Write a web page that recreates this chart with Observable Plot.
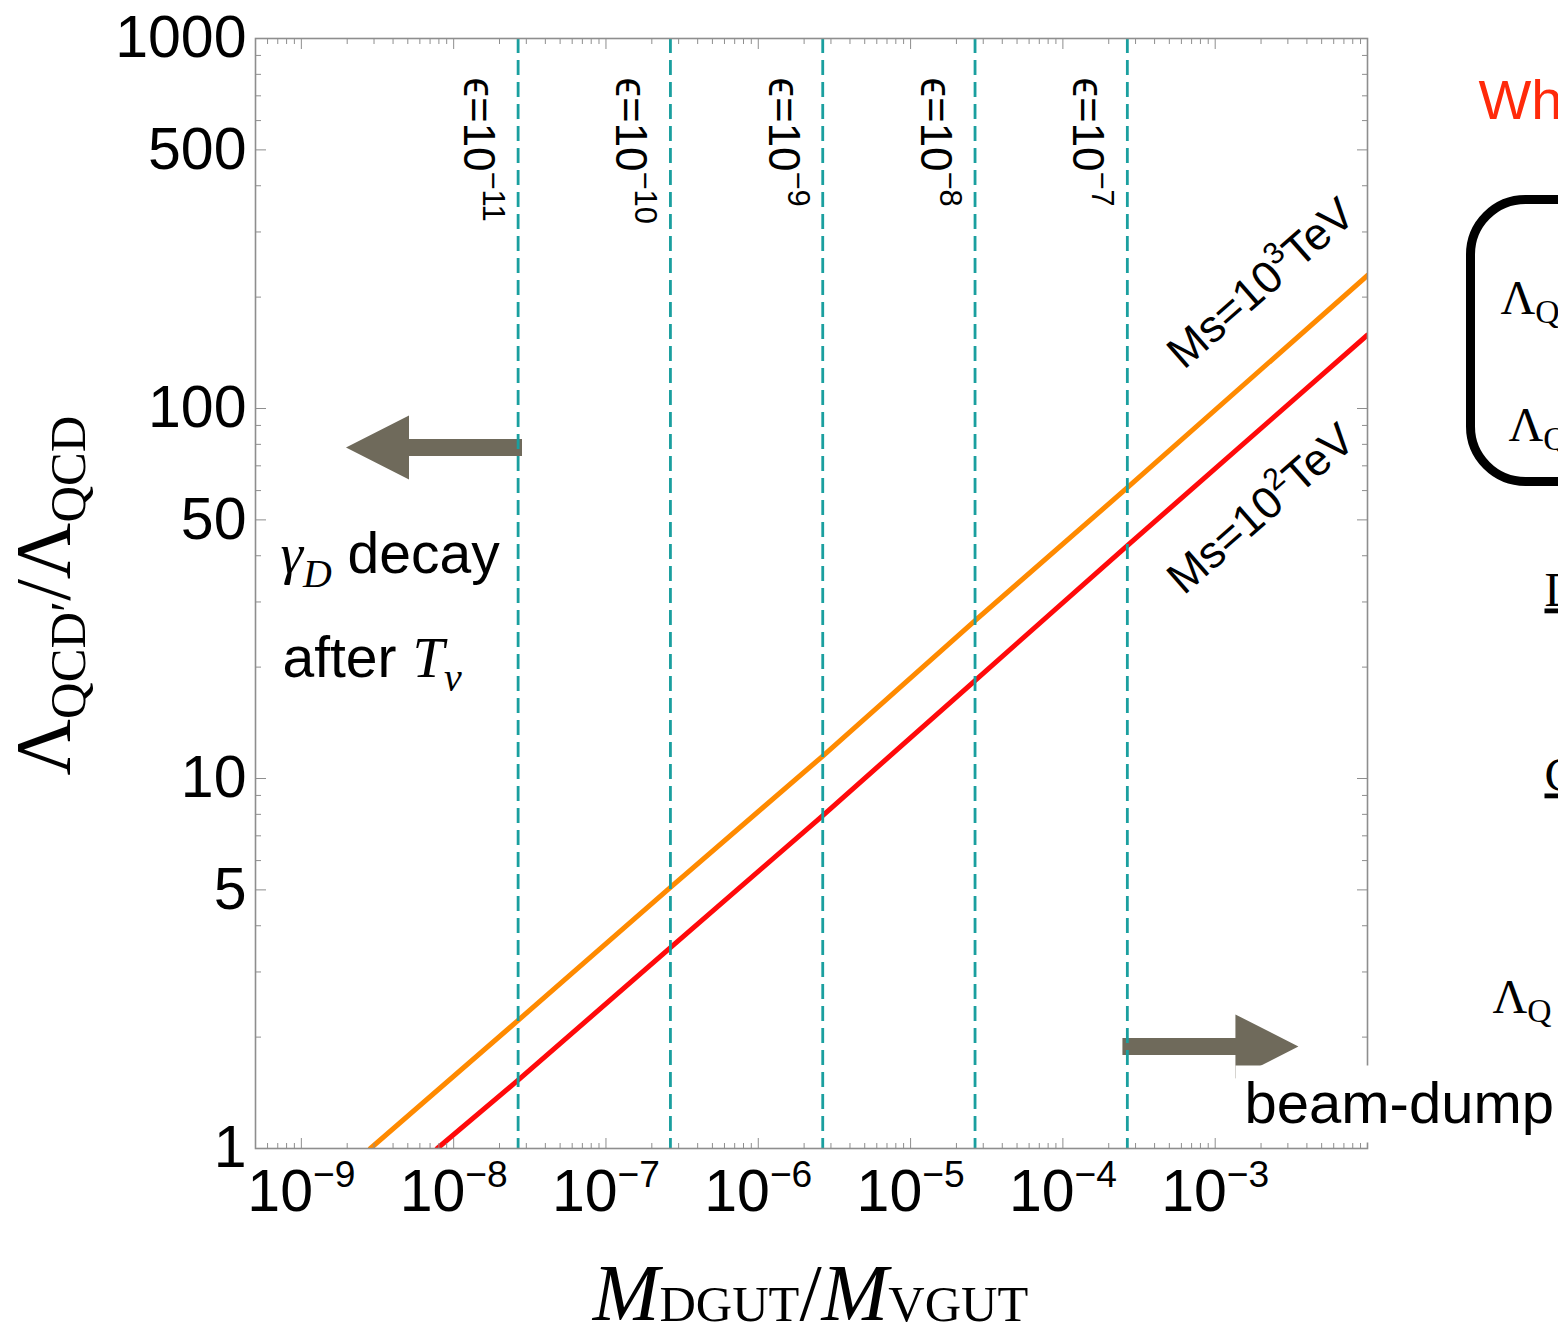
<!DOCTYPE html>
<html>
<head>
<meta charset="utf-8">
<script src="https://cdn.jsdelivr.net/npm/d3@7"></script>
<script src="https://cdn.jsdelivr.net/npm/@observablehq/plot@0.6"></script>
<style>
  html, body { margin: 0; padding: 0; background: #fff; overflow: hidden; }
  svg text { white-space: pre; }
</style>
</head>
<body>
<div id="chart"></div>
<script>
// Λ_QCD'/Λ_QCD as a function of M_DGUT/M_VGUT for two values of M_S
const orangeX = [2.84e-9, 2.65e-8, 2.65e-7, 2.65e-6, 2.65e-5, 2.65e-4, 1e-2];
const orangeY = [1, 2.22, 5.08, 11.5, 26.7, 61.1, 229];
const redX = [7.8e-9, 2.65e-8, 2.65e-7, 2.65e-6, 2.65e-5, 2.65e-4, 1e-2];
const redY = [1, 1.53, 3.49, 7.94, 18.4, 42.6, 158];
const seriesLabels = ["Ms=10^{3}TeV", "Ms=10^{2}TeV"];
const seriesColors = ["#ff8a00", "#ff0a0a"];

// kinetic-mixing contours ε = 10^n
const epsX = [2.65e-8, 2.65e-7, 2.65e-6, 2.65e-5, 2.65e-4];
const epsExponent = [-11, -10, -9, -8, -7];

// axis ticks
const xLabelExponents = [-9, -8, -7, -6, -5, -4, -3];
const xMajorExponents = [-9, -8, -7, -6, -5, -4, -3, -2];
const yLabelValues = [1, 5, 10, 50, 100, 500, 1000];

// excluded-region arrows: tail position and direction
const arrowX = [2.81e-8, 2.46e-4];
const arrowY = [78.5, 1.887];
const arrowAngle = [-90, 90];

const SANS = "'Liberation Sans', Arial, Helvetica, sans-serif";
const SERIF = "'Liberation Serif', 'Times New Roman', Times, serif";
const TICK = "#8e8e8e";
const TEAL = "#1a9f9f";
const ARROW = "#6f6a5b";

// tables built from the arrays above
const curves = [
  ...orangeX.map((x, i) => ({series: seriesLabels[0], x, y: orangeY[i]})),
  ...redX.map((x, i) => ({series: seriesLabels[1], x, y: redY[i]}))
];
const curveEnds = [
  {series: seriesLabels[0], x: orangeX.at(-1), y: orangeY.at(-1)},
  {series: seriesLabels[1], x: redX.at(-1), y: redY.at(-1)}
];
const epsRows = epsX.map((x, i) => ({x, label: `ϵ=10^{−${-epsExponent[i]}}`}));
const arrows = arrowX.map((x, i) => ({x, y: arrowY[i], angle: arrowAngle[i]}));

const xMajor = xMajorExponents.map(e => 10 ** e);
const xLabels = xLabelExponents.map(e => 10 ** e);
const xMinor = d3.range(-10, -2).flatMap(e => d3.range(2, 10).map(k => k * 10 ** e)).filter(v => v >= 5e-10 && v <= 1e-2);
const yMinor = d3.range(0, 3).flatMap(e => d3.range(2, 10).filter(k => k !== 5).map(k => k * 10 ** e));

// filled block arrow for the vector mark (drawn pointing "up", rotated by the mark)
const blockArrow = {
  draw(ctx, l) {
    const shaft = 8.5, head = 32, headLen = 63;
    ctx.moveTo(-shaft, 0);
    ctx.lineTo(-shaft, -(l - headLen));
    ctx.lineTo(-head, -(l - headLen));
    ctx.lineTo(0, -l);
    ctx.lineTo(head, -(l - headLen));
    ctx.lineTo(shaft, -(l - headLen));
    ctx.lineTo(shaft, 0);
    ctx.closePath();
  }
};

const tickAxes = [
  Plot.axisX(xMajor, {anchor: "bottom", tickSize: -10, fill: "none", stroke: TICK, label: null}),
  Plot.axisX(xMinor, {anchor: "bottom", tickSize: -5, fill: "none", stroke: TICK, label: null}),
  Plot.axisX(xMajor, {anchor: "top", tickSize: -10, fill: "none", stroke: TICK, label: null}),
  Plot.axisX(xMinor, {anchor: "top", tickSize: -5, fill: "none", stroke: TICK, label: null}),
  Plot.axisY(yLabelValues, {anchor: "left", tickSize: -11, fill: "none", stroke: TICK, label: null}),
  Plot.axisY(yMinor, {anchor: "left", tickSize: -6, fill: "none", stroke: TICK, label: null}),
  Plot.axisY(yLabelValues, {anchor: "right", tickSize: -11, fill: "none", stroke: TICK, label: null}),
  Plot.axisY(yMinor, {anchor: "right", tickSize: -6, fill: "none", stroke: TICK, label: null})
];

// a constant aria-label per text lets the markup pass below find each group
const tag = name => () => name;

const chart = Plot.plot({
  width: 1558,
  height: 1328,
  marginTop: 38,
  marginLeft: 255,
  marginRight: 191,
  marginBottom: 180,
  x: {type: "log", domain: [5e-10, 1e-2]},
  y: {type: "log", domain: [1, 1000]},
  color: {domain: seriesLabels, range: seriesColors},
  style: {fontFamily: SANS, background: "#fff", color: "#000", overflow: "visible"},
  marks: [
    Plot.line(curves, {x: "x", y: "y", z: "series", stroke: "series", strokeWidth: 5, clip: true}),
    Plot.vector(arrows, {x: "x", y: "y", rotate: "angle", length: 176, anchor: "start", shape: blockArrow, fill: ARROW, stroke: "none"}),
    Plot.ruleX(epsX, {stroke: TEAL, strokeWidth: 2.8, strokeDasharray: "15,7"}),
    Plot.frame({stroke: TICK, strokeWidth: 1.6}),
    ...tickAxes,
    Plot.axisX(xLabels, {anchor: "bottom", tickSize: 0, tickPadding: 21, fontSize: 59, label: null,
      tickFormat: v => `10^{−${Math.round(-Math.log10(v))}}`}),
    Plot.axisY(yLabelValues, {anchor: "left", tickSize: 0, tickPadding: 9, fontSize: 59, label: null,
      tickFormat: v => String(v)}),
    // ε labels along the dashed contours
    Plot.text(epsRows, {x: "x", text: "label", frameAnchor: "top", rotate: 90, textAnchor: "start", lineAnchor: "bottom",
      dx: -54, dy: 39, fontSize: 44, ariaLabel: tag("eps")}),
    // curve labels
    Plot.text(curveEnds.slice(0, 1), {x: "x", y: "y", text: "series", rotate: -41.2, textAnchor: "end", lineAnchor: "bottom",
      dx: -10, dy: -57, fontSize: 45, ariaLabel: tag("ms")}),
    Plot.text(curveEnds.slice(1), {x: "x", y: "y", text: "series", rotate: -41.2, textAnchor: "end", lineAnchor: "bottom",
      dx: -10, dy: 109, fontSize: 45, ariaLabel: tag("ms")}),
    // region annotations
    Plot.text(["*γ*_{*D*} decay"], {frameAnchor: "top-left", textAnchor: "start", lineAnchor: "bottom",
      dx: 25, dy: 534, fontSize: 57, ariaLabel: tag("note")}),
    Plot.text(["after *T*_{*ν*}"], {frameAnchor: "top-left", textAnchor: "start", lineAnchor: "bottom",
      dx: 27, dy: 638, fontSize: 57, ariaLabel: tag("note")}),
    Plot.frame({fill: "#fff", stroke: "none", insetLeft: 980, insetRight: -191, insetTop: 1027, insetBottom: 6}),
    Plot.text(["beam-dump"], {frameAnchor: "bottom-right", textAnchor: "start", lineAnchor: "bottom",
      dx: -123, dy: -26, fontSize: 58}),
    // axis titles
    Plot.text(["Λ_{QCD′}/Λ_{QCD}"], {frameAnchor: "left", rotate: -90, textAnchor: "middle", lineAnchor: "bottom",
      dx: -187, dy: 2, fontSize: 78, fontFamily: SERIF, ariaLabel: tag("ytitle")}),
    Plot.text(["*M*_{DGUT}/*M*_{VGUT}"], {frameAnchor: "bottom", textAnchor: "middle", lineAnchor: "bottom",
      dx: -1, dy: 171, fontSize: 80, fontFamily: SERIF, ariaLabel: tag("xtitle")}),
    // neighbouring slide content at the right edge
    Plot.text(["Wh"], {frameAnchor: "top-right", textAnchor: "start", lineAnchor: "bottom",
      dx: 111, dy: 80, fontSize: 56, fill: "#ff2a0a"}),
    Plot.frame({fill: "none", stroke: "#000", strokeWidth: 9, rx: 55, ry: 55,
      insetLeft: 1215, insetRight: -400, insetTop: 161, insetBottom: 667}),
    Plot.text(["Λ_{Q}"], {frameAnchor: "top-right", textAnchor: "start", lineAnchor: "bottom",
      dx: 133, dy: 275, fontSize: 48, fontFamily: SERIF, ariaLabel: tag("side")}),
    Plot.text(["Λ_{Q}"], {frameAnchor: "top-right", textAnchor: "start", lineAnchor: "bottom",
      dx: 141, dy: 402, fontSize: 48, fontFamily: SERIF, ariaLabel: tag("side")}),
    Plot.text(["D"], {frameAnchor: "top-right", textAnchor: "start", lineAnchor: "bottom",
      dx: 177, dy: 567, fontSize: 48, fontFamily: SERIF, ariaLabel: tag("underline")}),
    Plot.text(["C"], {frameAnchor: "top-right", textAnchor: "start", lineAnchor: "bottom",
      dx: 177, dy: 752, fontSize: 48, fontFamily: SERIF, ariaLabel: tag("underline")}),
    Plot.text(["Λ_{Q}"], {frameAnchor: "top-right", textAnchor: "start", lineAnchor: "bottom",
      dx: 125, dy: 974, fontSize: 48, fontFamily: SERIF, ariaLabel: tag("side")})
  ]
});

// tiny markup: ^{..} superscript, _{..} subscript, *..* italic serif
function parseRich(s) {
  const out = [];
  let kind = "normal", italic = false, buf = "";
  const flush = () => { if (buf) out.push({text: buf, kind, italic}); buf = ""; };
  for (let i = 0; i < s.length; i++) {
    const c = s[i];
    if ((c === "^" || c === "_") && s[i + 1] === "{") { flush(); kind = c === "^" ? "sup" : "sub"; i++; }
    else if (c === "}" && kind !== "normal") { flush(); kind = "normal"; }
    else if (c === "*") { flush(); italic = !italic; }
    else buf += c;
  }
  flush();
  return out;
}

function richify(svg, selector, {fontSize, scale = 0.65, raise = 0.42, drop = 0.22}) {
  d3.select(svg).selectAll(selector).each(function () {
    const el = d3.select(this);
    const segs = parseRich(el.text());
    el.text(null);
    let shift = 0;
    for (const seg of segs) {
      const ts = el.append("tspan").text(seg.text);
      const target = seg.kind === "sup" ? -raise * fontSize : seg.kind === "sub" ? drop * fontSize : 0;
      if (target !== shift) { ts.attr("dy", target - shift); shift = target; }
      if (seg.kind !== "normal") ts.attr("font-size", scale * fontSize);
      if (seg.italic) ts.attr("font-style", "italic").attr("font-family", SERIF);
    }
  });
}

richify(chart, 'g[aria-label="x-axis tick label"] text', {fontSize: 59, scale: 0.63, raise: 0.42});
richify(chart, 'text[aria-label="eps"]', {fontSize: 44, scale: 0.7, raise: 0.43});
richify(chart, 'text[aria-label="ms"]', {fontSize: 45, scale: 0.68, raise: 0.42});
richify(chart, 'text[aria-label="note"]', {fontSize: 57, scale: 0.7, drop: 0.25});
richify(chart, 'text[aria-label="ytitle"]', {fontSize: 78, scale: 0.65, drop: 0.21});
richify(chart, 'text[aria-label="xtitle"]', {fontSize: 80, scale: 0.63, drop: 0.02});
richify(chart, 'text[aria-label="side"]', {fontSize: 48, scale: 0.7, drop: 0.2});
d3.select(chart).selectAll('text[aria-label="underline"]').style("text-decoration", "underline");

document.getElementById("chart").appendChild(chart);
</script>
</body>
</html>
